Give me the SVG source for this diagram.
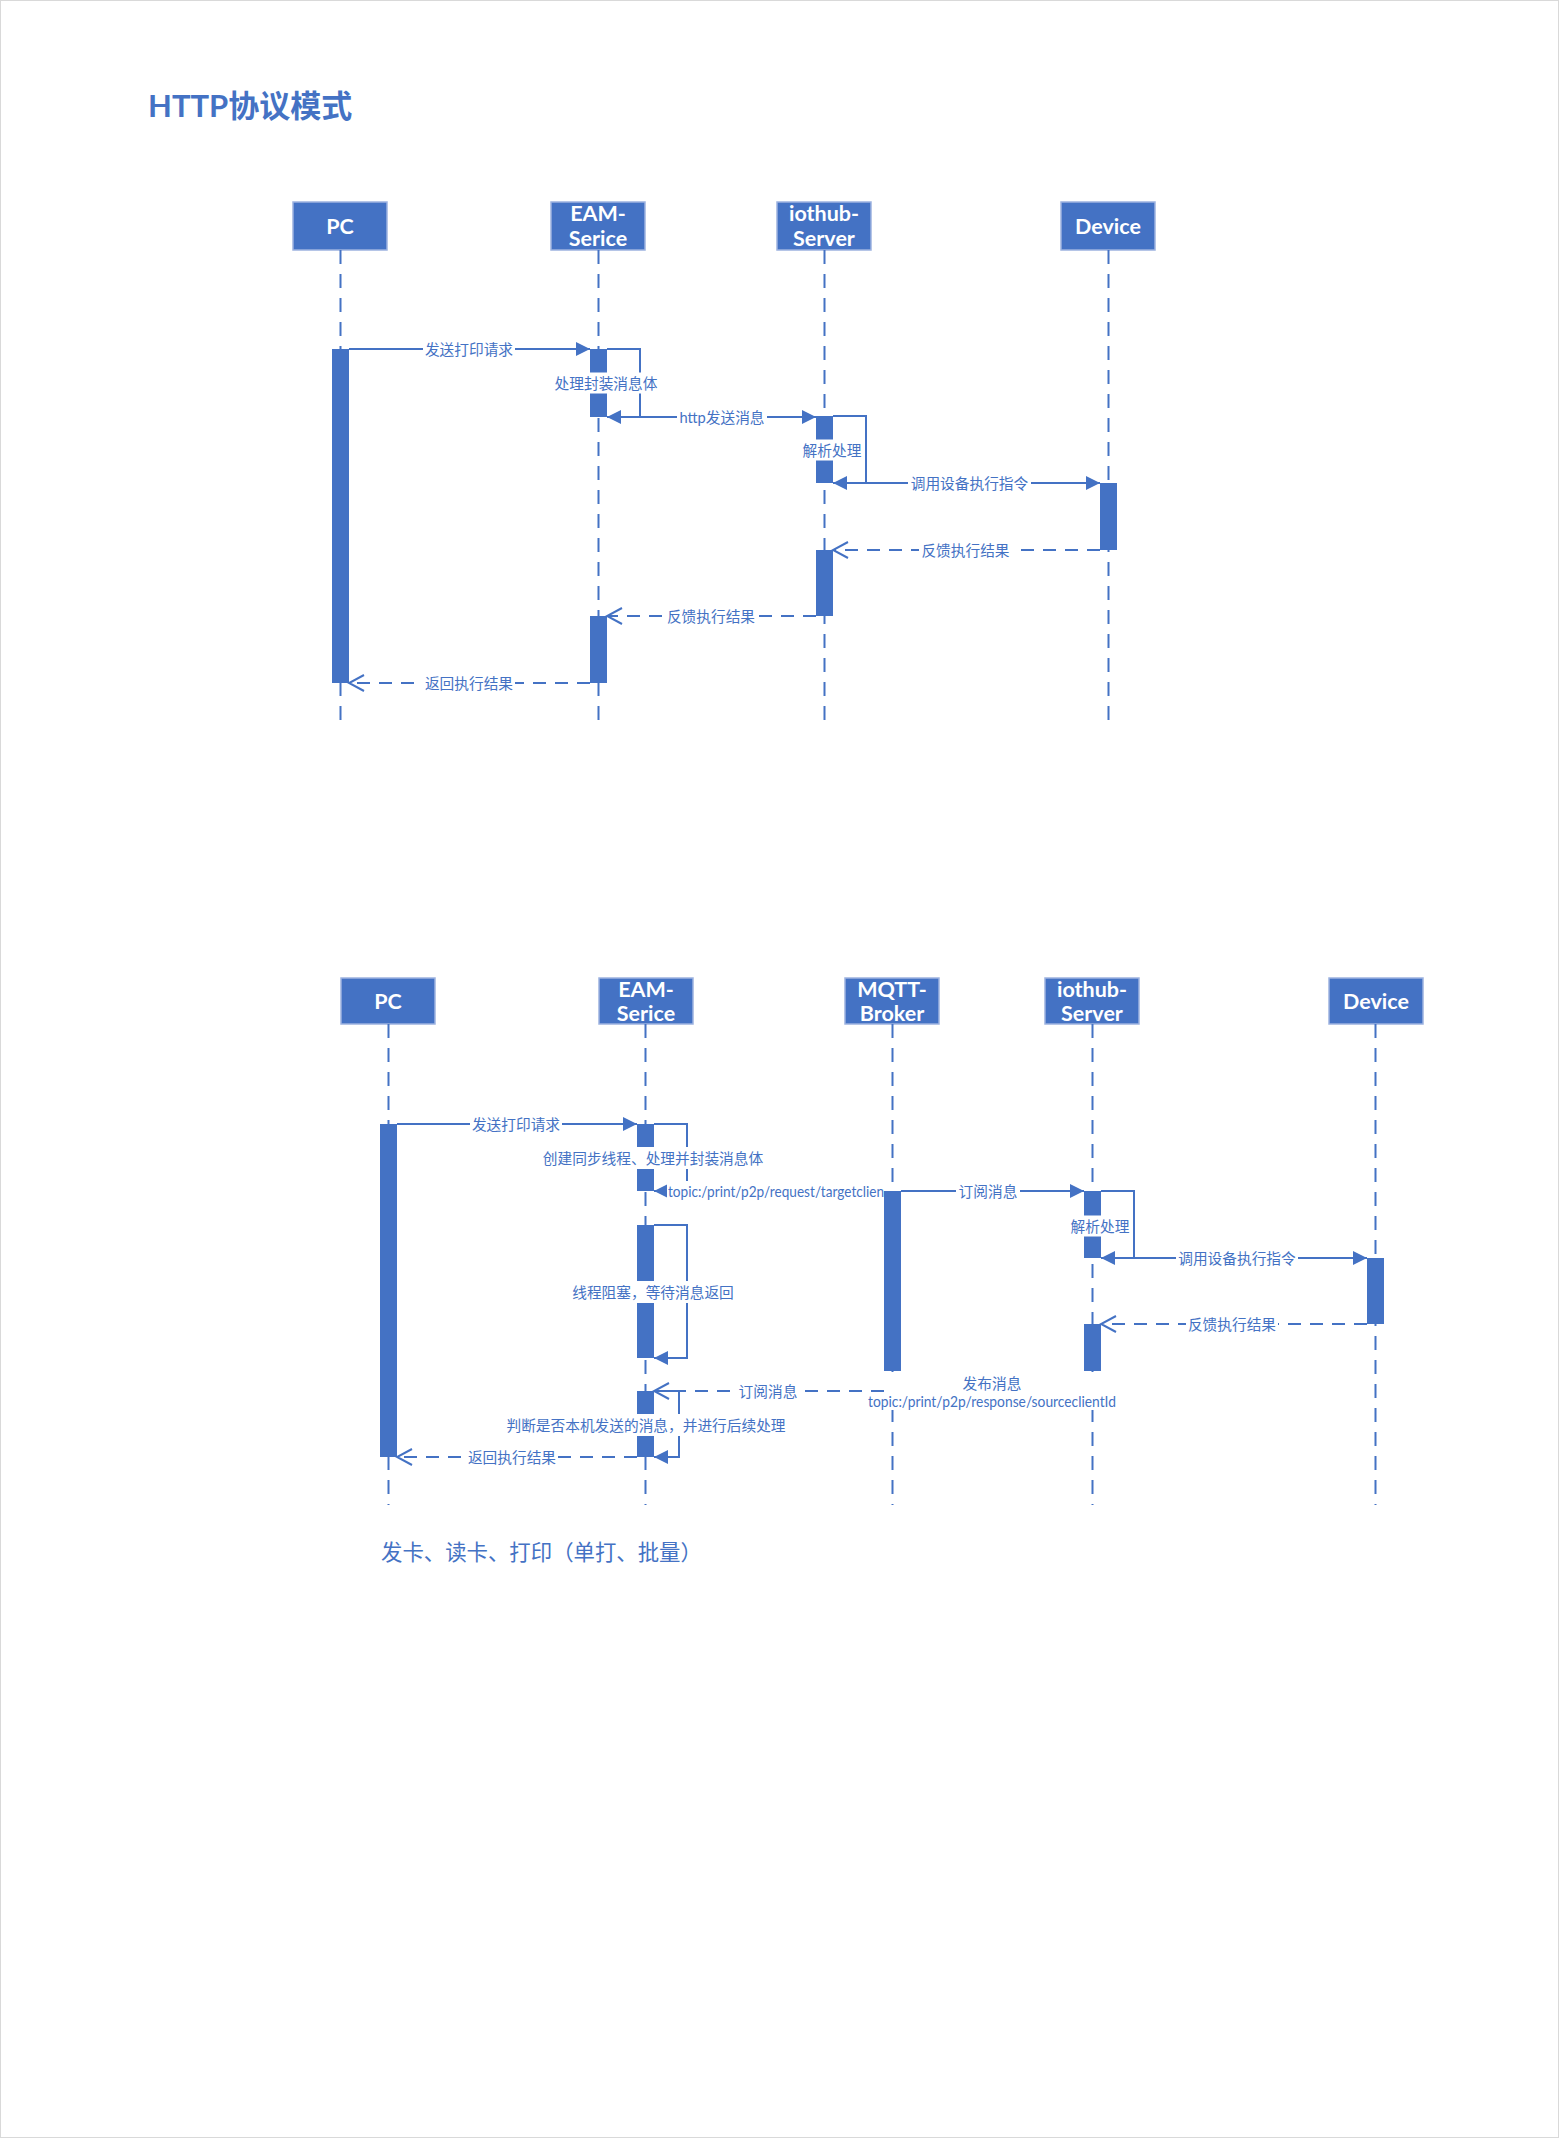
<svg xmlns="http://www.w3.org/2000/svg" width="1559" height="2138" viewBox="0 0 1559 2138">
<style>
.hdbox{fill:#4472C4;stroke:#9DB3E0;stroke-width:1.5}
.hd{font-family:Lato,"Noto Sans CJK SC",sans-serif;font-weight:bold;font-size:21.5px;fill:#FFFFFF;text-anchor:middle}
.life{stroke:#4472C4;stroke-width:2;stroke-dasharray:14 10;fill:none}
.bar{fill:#4472C4}
.msg{stroke:#4472C4;stroke-width:2;fill:none}
.ret{stroke:#4472C4;stroke-width:2;fill:none;stroke-dasharray:13 9}
.bg{fill:#FFFFFF}
.lb{font-family:Lato,"Noto Sans CJK SC",sans-serif;font-size:14.7px;fill:#4472C4;text-anchor:middle}
.lbl{font-family:Lato,"Noto Sans CJK SC",sans-serif;font-size:14.7px;fill:#4472C4}
.title{font-family:Lato,"Noto Sans CJK SC",sans-serif;font-weight:bold;font-size:31px;fill:#4472C4}
.cap{font-family:Lato,"Noto Sans CJK SC",sans-serif;font-size:21.4px;fill:#4472C4}
</style>
<defs>
<marker id="fa" markerUnits="userSpaceOnUse" markerWidth="16" markerHeight="16" viewBox="0 0 16 16" refX="15" refY="8" orient="auto"><path d="M1,1 L15,8 L1,15 Z" fill="#4472C4"/></marker>
<marker id="oa" markerUnits="userSpaceOnUse" markerWidth="18" markerHeight="20" viewBox="0 0 18 20" refX="16" refY="10" orient="auto"><path d="M1,2 L16,10 L1,18" fill="none" stroke="#4472C4" stroke-width="2"/></marker>
<clipPath id="clipTopic"><rect x="660" y="1175" width="224" height="35"/></clipPath>
</defs>
<rect x="0.5" y="0.5" width="1558" height="2137" fill="#FFFFFF" stroke="#D9D9D9" stroke-width="1"/>

<text class="title" x="148" y="117">HTTP协议模式</text>

<!-- TOP DIAGRAM NODES -->
<g id="t-pc">
<rect class="hdbox" x="293" y="202" width="94" height="48"/>
<text class="hd" x="340" y="233.5">PC</text>
<line class="life" x1="340.5" y1="250" x2="340.5" y2="730"/>
<rect class="bar" x="332" y="349" width="17" height="334"/>
</g>
<g id="t-eam">
<rect class="hdbox" x="551" y="202" width="94" height="48"/>
<text class="hd" x="598" y="221">EAM-</text>
<text class="hd" x="598" y="246">Serice</text>
<line class="life" x1="598.5" y1="250" x2="598.5" y2="730"/>
<rect class="bar" x="590" y="349" width="17" height="68"/>
<rect class="bar" x="590" y="616" width="17" height="67"/>
</g>
<g id="t-iothub">
<rect class="hdbox" x="777" y="202" width="94" height="48"/>
<text class="hd" x="824" y="221">iothub-</text>
<text class="hd" x="824" y="246">Server</text>
<line class="life" x1="824.5" y1="250" x2="824.5" y2="730"/>
<rect class="bar" x="816" y="416" width="17" height="67"/>
<rect class="bar" x="816" y="550" width="17" height="66"/>
</g>
<g id="t-device">
<rect class="hdbox" x="1061" y="202" width="94" height="48"/>
<text class="hd" x="1108" y="233.5">Device</text>
<line class="life" x1="1108.5" y1="250" x2="1108.5" y2="730"/>
<rect class="bar" x="1100" y="483" width="17" height="67"/>
</g>

<!-- BOTTOM DIAGRAM NODES -->
<g id="b-pc">
<rect class="hdbox" x="341" y="978" width="94" height="46"/>
<text class="hd" x="388" y="1008.5">PC</text>
<line class="life" x1="388.5" y1="1024" x2="388.5" y2="1505"/>
<rect class="bar" x="380" y="1124" width="17" height="333"/>
</g>
<g id="b-eam">
<rect class="hdbox" x="599" y="978" width="94" height="46"/>
<text class="hd" x="646" y="996.5">EAM-</text>
<text class="hd" x="646" y="1021">Serice</text>
<line class="life" x1="645.5" y1="1024" x2="645.5" y2="1505"/>
<rect class="bar" x="637" y="1124" width="17" height="67"/>
<rect class="bar" x="637" y="1225" width="17" height="133"/>
<rect class="bar" x="637" y="1391" width="17" height="66"/>
</g>
<g id="b-mqtt">
<rect class="hdbox" x="845" y="978" width="94" height="46"/>
<text class="hd" x="892" y="996.5">MQTT-</text>
<text class="hd" x="892" y="1021">Broker</text>
<line class="life" x1="892.5" y1="1024" x2="892.5" y2="1505"/>
<rect class="bar" x="884" y="1191" width="17" height="180"/>
</g>
<g id="b-iothub">
<rect class="hdbox" x="1045" y="978" width="94" height="46"/>
<text class="hd" x="1092" y="996.5">iothub-</text>
<text class="hd" x="1092" y="1021">Server</text>
<line class="life" x1="1092.5" y1="1024" x2="1092.5" y2="1505"/>
<rect class="bar" x="1084" y="1191" width="17" height="67"/>
<rect class="bar" x="1084" y="1324" width="17" height="47"/>
</g>
<g id="b-device">
<rect class="hdbox" x="1329" y="978" width="94" height="46"/>
<text class="hd" x="1376" y="1008.5">Device</text>
<line class="life" x1="1375.5" y1="1024" x2="1375.5" y2="1505"/>
<rect class="bar" x="1367" y="1258" width="17" height="66"/>
</g>

<!-- CONNECTORS -->
<g id="connectors">
<!-- top -->
<line class="msg" x1="349" y1="349" x2="590" y2="349" marker-end="url(#fa)"/>
<rect class="bg" x="423" y="339" width="92" height="20"/>
<text class="lb" x="469" y="354.5">发送打印请求</text>

<path class="msg" d="M607,349 H640 V417 H607" marker-end="url(#fa)"/>
<rect class="bg" x="552" y="372.5" width="108" height="21"/>
<text class="lb" x="606" y="388.5">处理封装消息体</text>

<line class="msg" x1="640" y1="417" x2="816" y2="417" marker-end="url(#fa)"/>
<rect class="bg" x="677" y="407" width="90" height="20"/>
<text class="lb" x="722" y="422.5">http发送消息</text>

<path class="msg" d="M833,416 H866 V483 H833" marker-end="url(#fa)"/>
<rect class="bg" x="800" y="439.5" width="64" height="21"/>
<text class="lb" x="832" y="455.5">解析处理</text>

<line class="msg" x1="866" y1="483" x2="1100" y2="483" marker-end="url(#fa)"/>
<rect class="bg" x="908" y="473" width="123" height="20"/>
<text class="lb" x="969.5" y="488.5">调用设备执行指令</text>

<line class="ret" x1="1100" y1="550" x2="833" y2="550" marker-end="url(#oa)"/>
<rect class="bg" x="919" y="540" width="93" height="20"/>
<text class="lb" x="965.5" y="555.5">反馈执行结果</text>

<line class="ret" x1="816" y1="616" x2="607" y2="616" marker-end="url(#oa)"/>
<rect class="bg" x="665" y="606" width="92" height="20"/>
<text class="lb" x="711" y="621.5">反馈执行结果</text>

<line class="ret" x1="590" y1="683" x2="349" y2="683" marker-end="url(#oa)"/>
<rect class="bg" x="423" y="673" width="92" height="20"/>
<text class="lb" x="469" y="688.5">返回执行结果</text>

<!-- bottom -->
<line class="msg" x1="397" y1="1124" x2="637" y2="1124" marker-end="url(#fa)"/>
<rect class="bg" x="470" y="1114" width="92" height="20"/>
<text class="lb" x="516" y="1129.5">发送打印请求</text>

<path class="msg" d="M654,1124 H687 V1191 H654" marker-end="url(#fa)"/>
<rect class="bg" x="541" y="1147" width="224" height="22"/>
<text class="lb" x="653" y="1163.5">创建同步线程、处理并封装消息体</text>

<line class="msg" x1="687" y1="1191" x2="884" y2="1191"/>
<g clip-path="url(#clipTopic)">
<rect class="bg" x="667" y="1181" width="217" height="21"/>
<text class="lbl" x="668" y="1196.5" textLength="232" lengthAdjust="spacingAndGlyphs">topic:/print/p2p/request/targetclientId</text>
</g>

<line class="msg" x1="901" y1="1191" x2="1084" y2="1191" marker-end="url(#fa)"/>
<rect class="bg" x="956" y="1181" width="64" height="20"/>
<text class="lb" x="988" y="1196.5">订阅消息</text>

<path class="msg" d="M1101,1191 H1134 V1258 H1101" marker-end="url(#fa)"/>
<rect class="bg" x="1068" y="1215.5" width="64" height="21"/>
<text class="lb" x="1100" y="1231.5">解析处理</text>

<line class="msg" x1="1134" y1="1258" x2="1367" y2="1258" marker-end="url(#fa)"/>
<rect class="bg" x="1176" y="1248" width="122" height="20"/>
<text class="lb" x="1237" y="1263.5">调用设备执行指令</text>

<line class="ret" x1="1367" y1="1324" x2="1101" y2="1324" marker-end="url(#oa)"/>
<rect class="bg" x="1186" y="1314" width="92" height="20"/>
<text class="lb" x="1232" y="1329.5">反馈执行结果</text>

<path class="msg" d="M654,1225 H687 V1358 H654" marker-end="url(#fa)"/>
<rect class="bg" x="570" y="1281" width="166" height="22"/>
<text class="lb" x="653" y="1297.5">线程阻塞，等待消息返回</text>

<line class="ret" x1="884" y1="1391" x2="654" y2="1391" marker-end="url(#oa)"/>
<rect class="bg" x="736" y="1381" width="64" height="20"/>
<text class="lb" x="768" y="1396.5">订阅消息</text>

<path class="msg" d="M654,1391 H679 V1457 H654" marker-end="url(#fa)"/>
<rect class="bg" x="504" y="1414" width="284" height="22"/>
<text class="lb" x="646" y="1430.5">判断是否本机发送的消息，并进行后续处理</text>

<line class="ret" x1="637" y1="1457" x2="397" y2="1457" marker-end="url(#oa)"/>
<rect class="bg" x="466" y="1447" width="92" height="20"/>
<text class="lb" x="512" y="1462.5">返回执行结果</text>

<rect class="bg" x="885" y="1372" width="216" height="22"/>
<rect class="bg" x="866" y="1394" width="252" height="16"/>
<text class="lb" x="992" y="1388.5">发布消息</text>
<text class="lb" x="992" y="1407" textLength="248" lengthAdjust="spacingAndGlyphs">topic:/print/p2p/response/sourceclientId</text>
</g>

<text class="cap" x="381" y="1560">发卡、读卡、打印（单打、批量）</text>
</svg>
